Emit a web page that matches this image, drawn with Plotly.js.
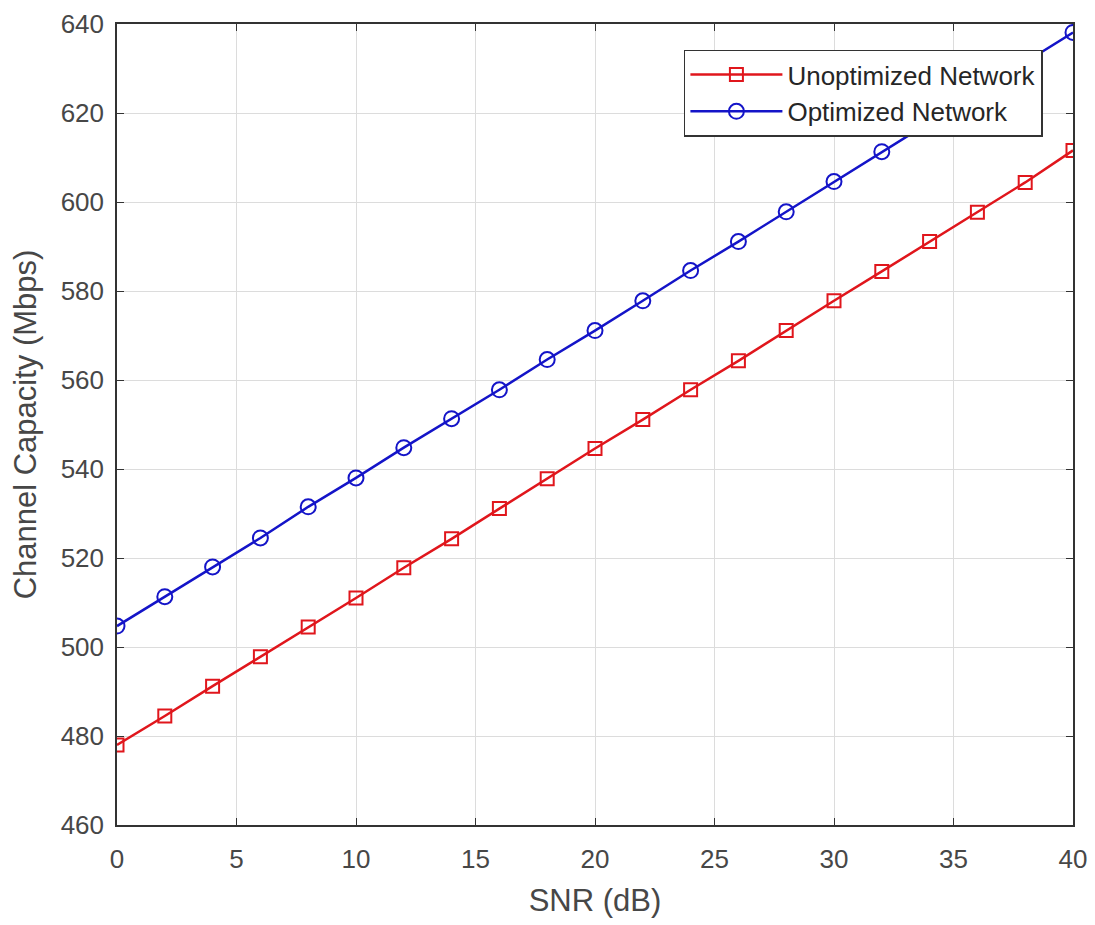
<!DOCTYPE html>
<html><head><meta charset="utf-8">
<script src="https://cdn.plot.ly/plotly-3.0.1.min.js"></script>
<style>body{margin:0;background:#fff}#c{width:1095px;height:925px}</style>
</head><body><div id="c"></div>
<script>
const snr = [0,2,4,6,8,10,12,14,16,18,20,22,24,26,28,30,32,34,36,38,40];
const unoptimized = [478.0,484.5,491.2,497.8,504.5,511.0,517.8,524.3,531.1,537.8,544.6,551.1,557.8,564.3,571.1,577.8,584.4,591.1,597.7,604.4,611.6];
const optimized = [504.7,511.3,518.0,524.5,531.5,538.0,544.8,551.3,557.8,564.6,571.1,577.8,584.6,591.1,597.8,604.6,611.3,617.9,624.4,631.4,638.1];
const xTicks = [0,5,10,15,20,25,30,35,40];
const yTicks = [460,480,500,520,540,560,580,600,620,640];

const font = {family:'Liberation Sans, Arial, sans-serif'};
const traces = [
 {x:snr,y:unoptimized,name:'Unoptimized Network',mode:'lines+markers',
  line:{color:'#e0161c',width:2.5},
  marker:{symbol:'square-open',size:13,color:'#e0161c',line:{width:2}}},
 {x:snr,y:optimized,name:'Optimized Network',mode:'lines+markers',
  line:{color:'#1414c8',width:2.5},
  marker:{symbol:'circle-open',size:15,color:'#1414c8',line:{width:2}}}
];
const axisCommon = {showline:true,linecolor:'#333',linewidth:1.5,mirror:'ticks',ticks:'inside',ticklen:7,tickcolor:'#333',
  showgrid:true,gridcolor:'#dcdcdc',gridwidth:1,zeroline:false,
  tickfont:{family:font.family,size:26,color:'#474747'}};
const layout = {
 width:1095,height:925,paper_bgcolor:'#fff',plot_bgcolor:'#fff',
 margin:{l:117,r:22,t:24,b:100},
 showlegend:true,
 legend:{x:0.593,xanchor:'left',y:0.968,yanchor:'top',bgcolor:'#fff',bordercolor:'#333',borderwidth:1.5,
   font:{family:font.family,size:26,color:'#262626'},tracegroupgap:0,itemwidth:92},
 xaxis:Object.assign({},axisCommon,{range:[0,40],tickvals:xTicks,ticklabelstandoff:10,
   title:{text:'SNR (dB)',font:{family:font.family,size:31,color:'#474747'},standoff:16}}),
 yaxis:Object.assign({},axisCommon,{range:[460,640],tickvals:yTicks,ticklabelstandoff:6,
   title:{text:'Channel Capacity (Mbps)',font:{family:font.family,size:31,color:'#474747'},standoff:15}})
};
Plotly.newPlot('c',traces,layout,{displayModeBar:false});
</script></body></html>
